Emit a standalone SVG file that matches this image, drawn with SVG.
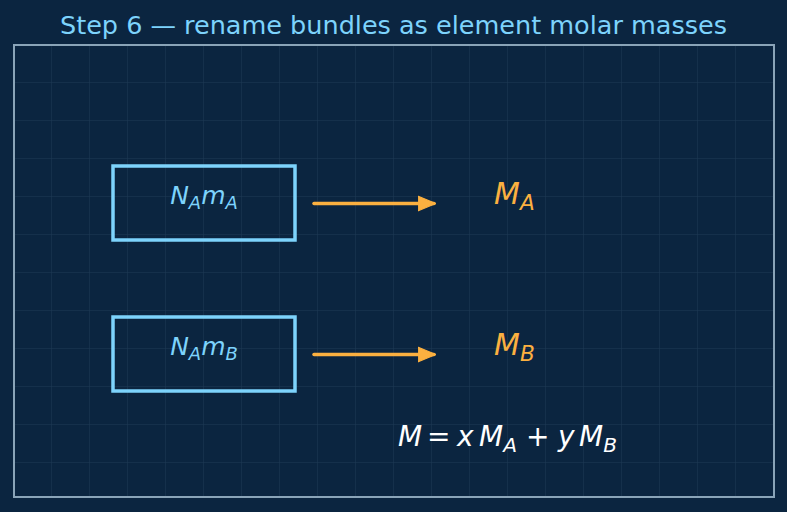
<svg xmlns="http://www.w3.org/2000/svg" width="787" height="512" viewBox="0 0 787 512">
<defs>
<style>
.grid{stroke:#1e3a55;stroke-width:1}
.box{fill:none;stroke:#7dd3fc;stroke-width:3.5}
.lbl{font-family:"DejaVu Sans",sans-serif;font-style:italic;font-size:25px;fill:#7dd3fc;text-anchor:middle}
.mm{font-family:"DejaVu Sans",sans-serif;font-style:italic;font-size:30px;fill:#fbb040}
.sub{font-size:0.72em}
.conn{stroke:#fbb040;stroke-width:3.5;stroke-linecap:round;fill:none}
.title{font-family:"DejaVu Sans",sans-serif;font-size:25.5px;fill:#7dd3fc;text-anchor:middle}
.eq{font-family:"DejaVu Sans",sans-serif;font-style:italic;font-size:28px;fill:#ffffff}
.up{font-style:normal}
</style>
<marker id="ah" viewBox="0 0 10 10" refX="9" refY="5" markerWidth="5" markerHeight="5" orient="auto" markerUnits="strokeWidth">
<path d="M0,0.8 L10,5 L0,9.2 Z" fill="#fbb040" stroke="#fbb040" stroke-width="0.6" stroke-linejoin="round"/>
</marker>
<pattern id="gp" x="14" y="45" width="38" height="38" patternUnits="userSpaceOnUse">
<path d="M38,0 L38,38 M0,38 L38,38" class="grid"/>
</pattern>
</defs>
<rect width="787" height="512" fill="#0b2540"/>
<text class="title" x="393.5" y="34">Step 6 — rename bundles as element molar masses</text>
<rect x="14" y="45" width="760" height="452" fill="url(#gp)"/>
<rect x="14" y="45" width="760" height="452" fill="none" stroke="#8aa4b8" stroke-width="2"/>
<g id="nodeA">
<rect class="box" x="113" y="166" width="182" height="74"/>
<text class="lbl" x="204" y="204">N<tspan class="sub" dy="5">A</tspan><tspan dy="-5">m</tspan><tspan class="sub" dy="5">A</tspan></text>
</g>
<g id="nodeB">
<rect class="box" x="113" y="317" width="182" height="74"/>
<text class="lbl" x="204" y="355">N<tspan class="sub" dy="5">A</tspan><tspan dy="-5">m</tspan><tspan class="sub" dy="5">B</tspan></text>
</g>
<g id="massA"><text class="mm" x="494" y="204">M<tspan class="sub" dy="6">A</tspan></text></g>
<g id="massB"><text class="mm" x="494" y="355">M<tspan class="sub" dy="6">B</tspan></text></g>
<g id="formula"><text class="eq" y="446"><tspan x="398">M</tspan><tspan class="up" x="427">=</tspan><tspan x="457">x</tspan><tspan x="479">M</tspan><tspan class="sub" dy="6">A</tspan><tspan class="up" x="526" dy="-6">+</tspan><tspan x="558">y</tspan><tspan x="579">M</tspan><tspan class="sub" dy="6">B</tspan></text></g>
<g id="connectors">
<line class="conn" x1="314" y1="203.5" x2="434" y2="203.5" marker-end="url(#ah)"/>
<line class="conn" x1="314" y1="354.5" x2="434" y2="354.5" marker-end="url(#ah)"/>
</g>
</svg>
